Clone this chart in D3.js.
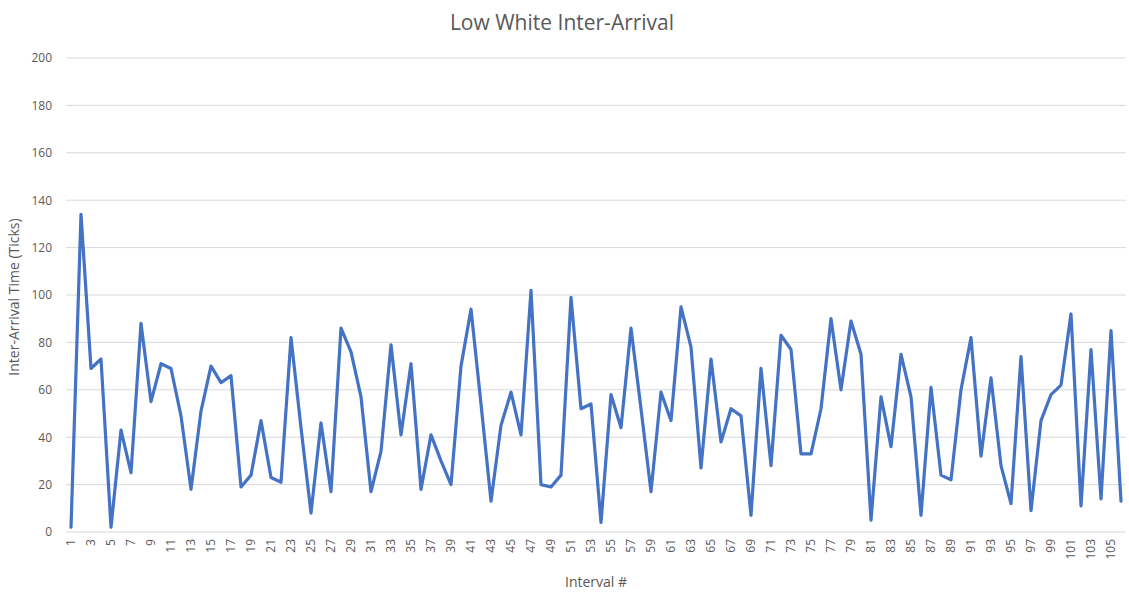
<!DOCTYPE html>
<html>
<head>
<meta charset="utf-8">
<script src="https://cdn.jsdelivr.net/npm/d3@7"></script>
<style>
  body { margin: 0; background: #fff; }
  text { font-family: "Open Sans", "Noto Sans", sans-serif; fill: #595959; }
</style>
</head>
<body>
<script>
// interval numbers 1..106 and the inter-arrival time
var intervals = d3.range(1, 107);
var arrivalTicks = [
  2, 134, 69, 73, 2, 43, 25, 88, 55, 71,
  69, 49, 18, 51, 70, 63, 66, 19, 24, 47,
  23, 21, 82, 44, 8, 46, 17, 86, 76, 57,
  17, 34, 79, 41, 71, 18, 41, 30, 20, 70,
  94, 54, 13, 45, 59, 41, 102, 20, 19, 24,
  99, 52, 54, 4, 58, 44, 86, 52, 17, 59,
  47, 95, 78, 27, 73, 38, 52, 49, 7, 69,
  28, 83, 77, 33, 33, 52, 90, 60, 89, 75,
  5, 57, 36, 75, 57, 7, 61, 24, 22, 60,
  82, 32, 65, 28, 12, 74, 9, 47, 58, 62,
  92, 11, 77, 14, 85, 13
];
var yTicks = [0, 20, 40, 60, 80, 100, 120, 140, 160, 180, 200];

var width = 1129, height = 592;
var svg = d3.select("body").append("svg")
  .attr("width", width)
  .attr("height", height);

// scales
var x = d3.scaleBand()
  .domain(intervals)
  .range([66, 1126])
  .padding(0);
var y = d3.scaleLinear()
  .domain([0, 200])
  .range([532, 58]);

// gridlines
svg.append("g")
  .selectAll("line")
  .data(yTicks)
  .enter().append("line")
    .attr("x1", 66)
    .attr("x2", 1126)
    .attr("y1", function(d) { return y(d); })
    .attr("y2", function(d) { return y(d); })
    .style("stroke", "#d9d9d9")
    .style("stroke-width", 1);

// y axis labels
var yAxis = d3.axisLeft(y).tickValues(yTicks).tickSize(0).tickPadding(14);
var gy = svg.append("g").attr("transform", "translate(66,0)").call(yAxis);
gy.select(".domain").remove();
gy.selectAll("text").style("font-size", "12px");

// x axis labels, every other interval, rotated
var xAxis = d3.axisBottom(x)
  .tickValues(intervals.filter(function(d) { return d % 2 === 1; }))
  .tickSize(0);
var gx = svg.append("g").attr("transform", "translate(0,532)").call(xAxis);
gx.select(".domain").remove();
gx.selectAll("text")
  .style("font-size", "12px")
  .attr("text-anchor", "end")
  .attr("transform", "rotate(-90)")
  .attr("x", -7)
  .attr("y", 0)
  .attr("dy", "0.35em");

// the line
var line = d3.line()
  .x(function(d, i) { return x(intervals[i]) + x.bandwidth() / 2; })
  .y(function(d) { return y(d); });

svg.append("path")
  .datum(arrivalTicks)
  .attr("d", line)
  .style("fill", "none")
  .style("stroke", "#4472C4")
  .style("stroke-width", 3.2)
  .style("stroke-linejoin", "round")
  .style("stroke-linecap", "round");

// titles
svg.append("text")
  .attr("x", 562)
  .attr("y", 30)
  .attr("text-anchor", "middle")
  .style("font-size", "21px")
  .text("Low White Inter-Arrival");

svg.append("text")
  .attr("x", 596)
  .attr("y", 587)
  .attr("text-anchor", "middle")
  .style("font-size", "14px")
  .text("Interval #");

svg.append("text")
  .attr("transform", "translate(19,297) rotate(-90)")
  .attr("text-anchor", "middle")
  .style("font-size", "14px")
  .text("Inter-Arrival Time (Ticks)");
</script>
</body>
</html>
